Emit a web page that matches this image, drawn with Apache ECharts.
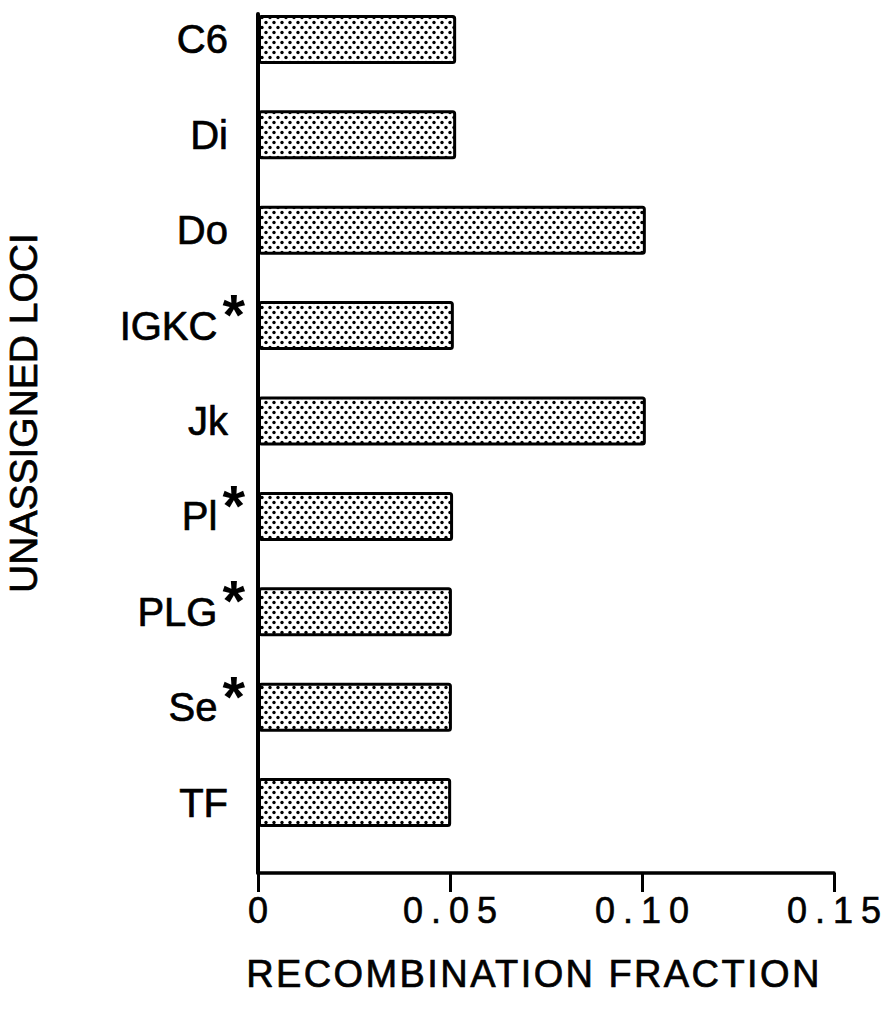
<!DOCTYPE html>
<html>
<head>
<meta charset="utf-8">
<script src="https://cdn.jsdelivr.net/npm/echarts@6/dist/echarts.min.js"></script>
<style>
	html, body { margin: 0; padding: 0; background: #fff; }
	#chart { width: 888px; height: 1015px; }
	/* 刻度文字字距 */
	#chart text[fill="#010101"] { letter-spacing: 8px; }
	/* 軸名字距 */
	#chart text[fill="#020202"] { letter-spacing: 2.4px; }
</style>
</head>
<body>
<div id="chart"></div>
<script>
/* 資料 */
const loci = ["C6", "Di", "Do", "IGKC", "Jk", "Pl", "PLG", "Se", "TF"];
const starred = [false, false, false, true, false, true, true, true, false];
const fractions = [0.0516, 0.0516, 0.101, 0.051, 0.101, 0.0508, 0.0505, 0.0505, 0.0503];
const xTicks = ["0", "0.05", "0.10", "0.15"];

/* 點狀網紋 */
const dotTile = (() => {
	const c = document.createElement("canvas");
	c.width = 8;
	c.height = 10;
	const ctx = c.getContext("2d");
	ctx.fillStyle = "#fff";
	ctx.fillRect(0, 0, 8, 10);
	ctx.fillStyle = "#000";
	[[2, 2.5], [6, 7.5]].forEach(([x, y]) => {
		ctx.beginPath();
		ctx.arc(x, y, 1.7, 0, Math.PI * 2);
		ctx.fill();
	});
	return c;
})();

const font = "'Liberation Sans', Arial, Helvetica, sans-serif";
const ink = { textBorderColor: "#000", textBorderWidth: 0.7 };
const chart = echarts.init(document.getElementById("chart"), null, { renderer: "svg" });

chart.setOption({
	animation: false,
	backgroundColor: "#fff",
	grid: [
		{ left: 258, width: 576, top: -8.2, height: 858.4, outerBoundsMode: "none", containLabel: false },
		{ left: 258, width: 576, top: 14, height: 859, outerBoundsMode: "none", containLabel: false },
	],
	xAxis: [
		{
			gridIndex: 0,
			type: "value",
			min: 0,
			max: 0.15,
			show: false,
		},
		{
			gridIndex: 1,
			type: "value",
			min: 0,
			max: 0.15,
			interval: 0.05,
			position: "bottom",
			axisLine: { onZero: false, lineStyle: { color: "#000", width: 3.5 } },
			axisTick: { show: true, inside: false, length: 19, lineStyle: { color: "#000", width: 3 } },
			splitLine: { show: false },
			axisLabel: {
				margin: 19,
				color: "#010101",
				fontFamily: font,
				fontSize: 36,
				textBorderColor: "#010101",
				textBorderWidth: 0.6,
				padding: [0, 0, 0, 8],
				formatter: (v) => xTicks[Math.round(v / 0.05)],
			},
			name: "RECOMBINATION FRACTION",
			nameLocation: "middle",
			nameGap: 82,
			nameTextStyle: {
				color: "#020202",
				fontFamily: font,
				fontSize: 38,
				textBorderColor: "#020202",
				textBorderWidth: 0.7,
				padding: [0, 24, 0, 0],
			},
		},
	],
	yAxis: [
		{
			gridIndex: 0,
			type: "category",
			inverse: true,
			data: loci,
			axisLine: { show: false },
			axisTick: { show: false },
			axisLabel: {
				margin: 10,
				formatter: (name, i) => `{n|${name}}` + (starred[i] ? "{s|*}" : "{p|}"),
				rich: {
					n: { fontFamily: font, fontSize: 40, color: "#000", ...ink },
					s: {
						fontFamily: font,
						fontSize: 58,
						fontWeight: "bold",
						color: "#000",
						padding: [0, 3, 22, 5],
					},
					p: { width: 20 },
				},
			},
			name: "UNASSIGNED LOCI",
			nameLocation: "middle",
			nameGap: 215,
			nameTextStyle: {
				color: "#000",
				fontFamily: font,
				fontSize: 39,
				padding: [0, 0, 0, 16],
				...ink,
			},
		},
		{
			gridIndex: 1,
			type: "value",
			min: 0,
			max: 1,
			axisLine: { show: true, lineStyle: { color: "#000", width: 4 } },
			axisTick: { show: false },
			axisLabel: { show: false },
			splitLine: { show: false },
		},
	],
	series: [
		{
			type: "bar",
			xAxisIndex: 0,
			yAxisIndex: 0,
			data: fractions,
			barWidth: 49,
			itemStyle: {
				color: { image: dotTile, repeat: "repeat", imageWidth: 8, imageHeight: 10 },
				borderColor: "#000",
				borderWidth: 3,
				borderRadius: 2,
			},
		},
	],
});
</script>
</body>
</html>
